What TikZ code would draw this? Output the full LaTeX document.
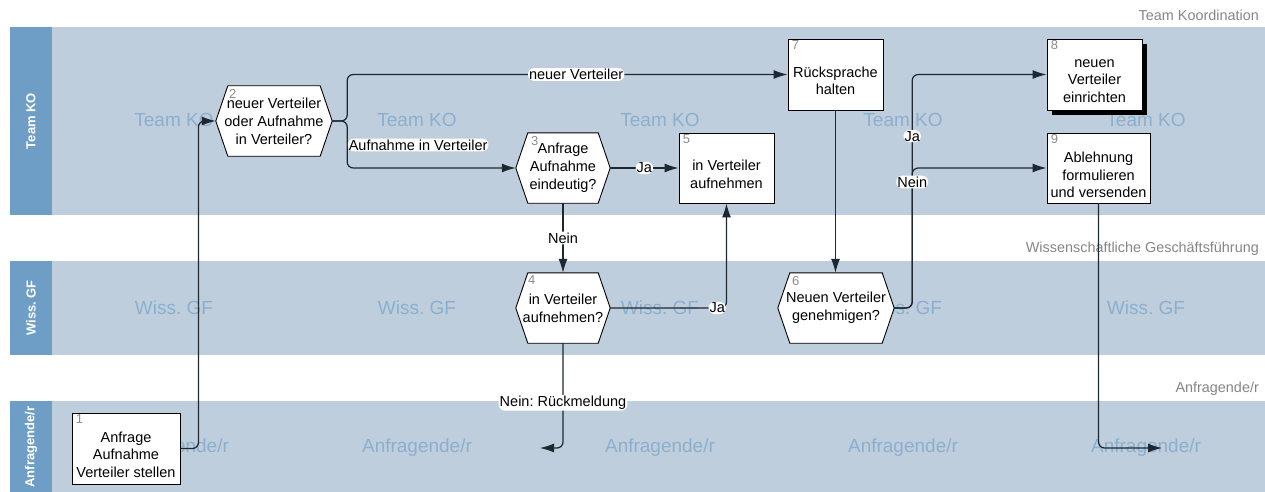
\documentclass[tikz,border=0pt]{standalone}
\usepackage{fontspec}
\setmainfont{Liberation Sans}
\usetikzlibrary{arrows.meta,calc,shadows}
\definecolor{lanebody}{HTML}{BECEDC}
\definecolor{laneheadc}{HTML}{6E9EC6}
\definecolor{wmark}{HTML}{8CAFCE}
\definecolor{titlegray}{HTML}{858585}
\definecolor{numgray}{HTML}{8C8C8C}
\definecolor{linec}{HTML}{1E2833}
\newcommand\myhex[2]{\filldraw[fill=white,draw=black,line width=0.9pt] (#1.west) -- ($(#1.north west)+(#2,0)$) -- ($(#1.north east)+(-#2,0)$) -- (#1.east) -- ($(#1.south east)+(-#2,0)$) -- ($(#1.south west)+(#2,0)$) -- cycle;}
\begin{document}
\frenchspacing
\begin{tikzpicture}[x=1pt,y=-1pt,
  headtxt/.style={rotate=90, text=white, font=\bfseries\fontsize{13}{15}\selectfont, inner sep=0pt},
  wm/.style={text=wmark, font=\fontsize{19}{22}\selectfont, inner sep=0pt},
  lanetitle/.style={text=titlegray, font=\fontsize{14.4}{16}\selectfont, anchor=east, inner sep=0pt},
  taskbox/.style={draw=black, fill=white, line width=0.9pt, inner sep=0pt},
  tasktxt/.style={align=center, font=\fontsize{14.5}{17.5}\selectfont, inner sep=0pt},
  hexbox/.style={draw=none, align=center, font=\fontsize{14.5}{18}\selectfont, inner sep=0pt},
  num/.style={text=numgray, font=\fontsize{13}{15}\selectfont, inner sep=0pt, anchor=north west},
  conn/.style={draw=linec, line width=1.2pt, rounded corners=6pt, -{Latex[length=14pt,width=9pt]}},
  elabel/.style={fill=white, inner sep=1pt, font=\fontsize{14.5}{17}\selectfont, text=black}
]
\useasboundingbox (0,0) rectangle (1265,492);
% lanes
\fill[lanebody] (10,27) rectangle (1265,215);
\fill[laneheadc] (10,27) rectangle (52,215);
\fill[lanebody] (10,261) rectangle (1265,355);
\fill[laneheadc] (10,261) rectangle (52,355);
\fill[lanebody] (10,401) rectangle (1265,492);
\fill[laneheadc] (10,401) rectangle (52,492);
\node[headtxt] (h1) at (31,121) {Team KO};
\node[headtxt] (h2) at (31,308) {Wiss. GF};
\node[headtxt] (h3) at (31,447) {Anfragende/r};
% watermarks
\foreach \x in {174,417,660,903,1146}{
  \node[wm] (wa\x) at (\x,120) {Team KO};
  \node[wm] (wb\x) at (\x,308) {Wiss. GF};
  \node[wm] (wc\x) at (\x,448) {Anfragende/r};
}
% lane titles
\node[lanetitle] (t1) at (1259,15) {Team Koordination};
\node[lanetitle] (t2) at (1259,249) {Wissenschaftliche Geschäftsführung};
\node[lanetitle] (t3) at (1259,389) {Anfragende/r};
% task boxes
\node[taskbox, minimum width=108pt, minimum height=71pt] (n1) at (126,448.5) {};
\node[tasktxt] (n1t) at ($(n1.center)+(0,6)$) {Anfrage\\Aufnahme\\Verteiler stellen};
\node[num] (n1n) at ($(n1.north west)+(4,2)$) {1};
\node[taskbox, minimum width=95pt, minimum height=70pt] (n5) at (726.5,168) {};
\node[tasktxt] (n5t) at ($(n5.center)+(0,6.5)$) {in Verteiler\\aufnehmen};
\node[num] (n5n) at ($(n5.north west)+(4,2)$) {5};
\node[taskbox, minimum width=95pt, minimum height=71pt] (n7) at (835.5,74.5) {};
\node[tasktxt] (n7t) at ($(n7.center)+(0,6.5)$) {Rücksprache\\halten};
\node[num] (n7n) at ($(n7.north west)+(4,2)$) {7};
\node[taskbox, minimum width=95pt, minimum height=71pt, drop shadow={shadow xshift=5pt,shadow yshift=-5pt,fill=black,opacity=1}] (n8) at (1094.5,74.5) {};
\node[tasktxt] (n8t) at ($(n8.center)+(0,6.5)$) {neuen\\Verteiler\\einrichten};
\node[num] (n8n) at ($(n8.north west)+(4,2)$) {8};
\node[taskbox, minimum width=103pt, minimum height=70pt] (n9) at (1098.5,168) {};
\node[tasktxt] (n9t) at ($(n9.center)+(0,7)$) {Ablehnung\\formulieren\\und versenden};
\node[num] (n9n) at ($(n9.north west)+(4,2)$) {9};
% decisions (hexagons)
\node[hexbox, minimum width=116pt, minimum height=70pt] (n2) at (274,121) {};
\myhex{n2}{12}
\node[hexbox] (n2t) at (n2.center) {neuer Verteiler\\oder Aufnahme\\in Verteiler?};
\node[num] (n2n) at ($(n2.north west)+(13,3)$) {2};
\node[hexbox, minimum width=94pt, minimum height=70pt] (n3) at (563,168) {};
\myhex{n3}{12}
\node[hexbox] (n3t) at (n3.center) {Anfrage\\Aufnahme\\eindeutig?};
\node[num] (n3n) at ($(n3.north west)+(15,3)$) {3};
\node[hexbox, minimum width=94pt, minimum height=70pt] (n4) at (563,308) {};
\myhex{n4}{12}
\node[hexbox] (n4t) at (n4.center) {in Verteiler\\aufnehmen?};
\node[num] (n4n) at ($(n4.north west)+(12,3)$) {4};
\node[hexbox, minimum width=116pt, minimum height=70pt] (n6) at (836,308) {};
\myhex{n6}{12}
\node[hexbox] (n6t) at (n6.center) {Neuen Verteiler\\genehmigen?};
\node[num] (n6n) at ($(n6.north west)+(14,3)$) {6};
% free ends
\coordinate (e4) at (540,448);
\coordinate (e9) at (1162,448);
% connectors
\draw[conn] (n1.east) -- ++(18,0) |- (n2.west);
\draw[conn] (n2.east) -- ++(15,0) |- node[elabel,pos=0.76]{neuer Verteiler} (n7.west);
\draw[conn] (n2.east) -- ++(15,0) |- node[elabel,pos=0.255,anchor=west]{Aufnahme in Verteiler} (n3.west);
\draw[conn] (n3.east) -- node[elabel]{Ja} (n5.west);
\draw[conn] (n3.south) -- node[elabel]{Nein} (n4.north);
\draw[conn] (n4.east) -| node[elabel,pos=0.46]{Ja} (n5.south);
\draw[conn] (n4.south) |- node[elabel,pos=0.285]{Nein: Rückmeldung} (e4);
\draw[conn] (n7.south) -- (n7.south |- n6.north);
\draw[conn] (n6.east) -- ++(18,0) |- node[elabel,pos=0.368]{Ja} (n8.west);
\draw[conn] (n6.east) -- ++(18,0) |- node[elabel,pos=0.45]{Nein} (n9.west);
\draw[conn] (n9.south) |- (e9);
\end{tikzpicture}
\end{document}
